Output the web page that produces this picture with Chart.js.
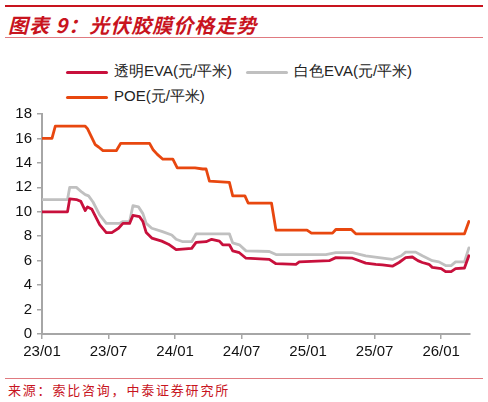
<!DOCTYPE html>
<html>
<head>
<meta charset="utf-8">
<script src="https://cdn.jsdelivr.net/npm/chart.js@4"></script>
<style>
  html, body { margin: 0; padding: 0; background: #fff; }
  body { width: 488px; height: 402px; position: relative; overflow: hidden; font-family: "Liberation Sans", Arial, sans-serif; }
  .rule-top { position: absolute; left: 5px; top: 5px; width: 478px; height: 2px; background: #c8141e; }
  .rule-mid { position: absolute; left: 5px; top: 37px; width: 478px; height: 1px; background: #e07a80; }
  .rule-foot { position: absolute; left: 5px; top: 378px; width: 478px; height: 1px; background: #e07a80; }
  .title { position: absolute; left: 8px; top: 10px; font-family: "Noto Sans CJK SC", sans-serif; font-size: 20px; font-weight: bold; font-style: italic; color: #c8141e; letter-spacing: 1px; }
  .source { position: absolute; left: 8px; top: 380px; font-family: "Noto Sans CJK SC", sans-serif; font-size: 13px; color: #c8141e; letter-spacing: 1.8px; }
  .legend { position: absolute; font-size: 15px; color: #222; white-space: nowrap; }
  .legend span.sw { display: inline-block; width: 42px; height: 3px; vertical-align: middle; margin-right: 6px; border-radius: 2px; }
  #wrap { position: absolute; left: 0; top: 100px; width: 488px; height: 270px; }
</style>
</head>
<body>
<div class="rule-top"></div>
<div class="title">图表 9：光伏胶膜价格走势</div>
<div class="rule-mid"></div>

<div class="legend" style="left:66px; top:62px;"><span class="sw" style="background:#c8103c"></span>透明EVA(元/平米)</div>
<div class="legend" style="left:246px; top:62px;"><span class="sw" style="background:#c0c0c0"></span>白色EVA(元/平米)</div>
<div class="legend" style="left:66px; top:87px;"><span class="sw" style="background:#e8470f"></span>POE(元/平米)</div>

<div id="wrap"><canvas id="chart"></canvas></div>

<div class="rule-foot"></div>
<div class="source">来源：索比咨询，中泰证券研究所</div>

<script>
// x values are months counted from 2023/01
const tickMonths = [0, 6, 12, 18, 24, 30, 36];
const tickLabels = ['23/01', '23/07', '24/01', '24/07', '25/01', '25/07', '26/01'];

const clearEvaMonths = [0, 2.3, 2.5, 3.1, 3.5, 3.9, 4.1, 4.5, 5.2, 5.8, 6.3, 6.9, 7.3, 7.9, 8.2, 8.8, 9.1, 9.4, 9.9, 10.8,
  11.4, 12.1, 13.5, 13.9, 14.8, 15.3, 16.0, 16.3, 16.9, 17.2, 17.8, 18.4, 20.5, 21.1, 22.9, 23.2, 25.9, 26.5, 28.0, 29.2,
  30.1, 30.7, 31.6, 32.2, 32.8, 33.4, 33.9, 34.3, 34.9, 35.2, 36.0, 36.4, 36.9, 37.3, 38.1, 38.5];
const clearEvaPrice = [10.0, 10.0, 11.05, 11.0, 10.85, 10.1, 10.4, 10.2, 8.95, 8.3, 8.3, 8.65, 9.05, 9.05, 9.7, 9.6, 9.2, 8.3, 7.85, 7.6,
  7.35, 6.9, 7.0, 7.5, 7.55, 7.75, 7.6, 7.3, 7.3, 6.8, 6.65, 6.2, 6.1, 5.75, 5.7, 5.9, 6.0, 6.25, 6.2, 5.8,
  5.7, 5.65, 5.55, 5.85, 6.25, 6.3, 6.0, 5.85, 5.7, 5.45, 5.35, 5.1, 5.1, 5.35, 5.4, 6.4];

const whiteEvaMonths = [0, 2.3, 2.5, 3.1, 3.6, 3.9, 4.2, 4.6, 5.2, 5.8, 7.0, 7.3, 7.9, 8.2, 8.7, 9.1, 9.4, 9.9, 10.8, 11.7,
  12.1, 12.7, 13.5, 13.9, 16.9, 17.2, 17.8, 18.4, 20.5, 21.1, 25.6, 26.5, 28.0, 29.2, 31.6, 32.4, 32.8, 33.7, 34.3, 35.2,
  35.8, 36.4, 36.9, 37.3, 38.1, 38.5];
const whiteEvaPrice = [11.0, 11.0, 12.0, 12.0, 11.6, 11.4, 11.3, 10.8, 9.75, 9.05, 9.05, 9.2, 9.2, 10.5, 10.4, 9.85, 9.05, 8.65, 8.4, 8.1,
  7.75, 7.55, 7.55, 8.2, 8.2, 7.45, 7.3, 6.8, 6.75, 6.5, 6.5, 6.65, 6.65, 6.4, 6.1, 6.4, 6.7, 6.7, 6.4, 6.0,
  5.9, 5.6, 5.6, 5.9, 5.9, 7.05];

const poeMonths = [0, 0.9, 1.2, 3.9, 4.1, 4.8, 5.1, 5.5, 6.7, 7.1, 9.7, 10.0, 10.4, 10.9, 11.8, 12.2, 13.8, 14.5, 14.8, 15.1,
  16.9, 17.2, 18.3, 18.6, 20.7, 21.1, 23.9, 24.3, 26.2, 26.5, 27.9, 28.3, 38.1, 38.5];
const poePrice = [16.0, 16.0, 17.0, 17.0, 16.8, 15.5, 15.3, 15.0, 15.0, 15.6, 15.6, 15.1, 14.7, 14.3, 14.3, 13.6, 13.6, 13.5, 13.5, 12.5,
  12.4, 11.3, 11.3, 10.7, 10.7, 8.5, 8.5, 8.25, 8.25, 8.55, 8.55, 8.2, 8.2, 9.2];

function toPoints(xs, ys) {
  return xs.map((x, i) => ({ x: x, y: ys[i] }));
}

function lineSet(label, xs, ys, color) {
  return {
    label: label,
    data: toPoints(xs, ys),
    borderColor: color,
    backgroundColor: color,
    borderWidth: 2.8,
    pointRadius: 0,
    borderJoinStyle: 'round',
    borderCapStyle: 'round',
    tension: 0
  };
}

const axisGray = '#a6a6a6';

new Chart(document.getElementById('chart').getContext('2d'), {
  type: 'line',
  data: {
    datasets: [
      lineSet('透明EVA(元/平米)', clearEvaMonths, clearEvaPrice, '#c8103c'),
      lineSet('白色EVA(元/平米)', whiteEvaMonths, whiteEvaPrice, '#c0c0c0'),
      lineSet('POE(元/平米)', poeMonths, poePrice, '#e8470f')
    ]
  },
  options: {
    responsive: true,
    maintainAspectRatio: false,
    animation: false,
    layout: { padding: { left: 0, right: 18, top: 11, bottom: 0 } },
    plugins: { legend: { display: false }, tooltip: { enabled: false } },
    scales: {
      x: {
        type: 'linear',
        min: 0,
        max: 38.6,
        afterBuildTicks: scale => { scale.ticks = tickMonths.map(v => ({ value: v })); },
        afterFit: scale => { scale.height = 36; },
        ticks: {
          autoSkip: false,
          maxRotation: 0,
          padding: 4,
          color: '#111',
          font: { family: 'Liberation Sans', size: 15 },
          callback: value => tickLabels[tickMonths.indexOf(value)]
        },
        grid: { display: true, drawOnChartArea: false, drawTicks: true, tickLength: 5, color: axisGray, lineWidth: 1.5 },
        border: { display: true, color: axisGray, width: 2 }
      },
      y: {
        min: 0,
        max: 18,
        afterFit: scale => { scale.width = 42; },
        ticks: {
          stepSize: 2,
          padding: 5,
          color: '#111',
          font: { family: 'Liberation Sans', size: 15 }
        },
        grid: { display: true, drawOnChartArea: false, drawTicks: true, tickLength: 5, color: axisGray, lineWidth: 1.5 },
        border: { display: true, color: axisGray, width: 2 }
      }
    }
  }
});
</script>
</body>
</html>
